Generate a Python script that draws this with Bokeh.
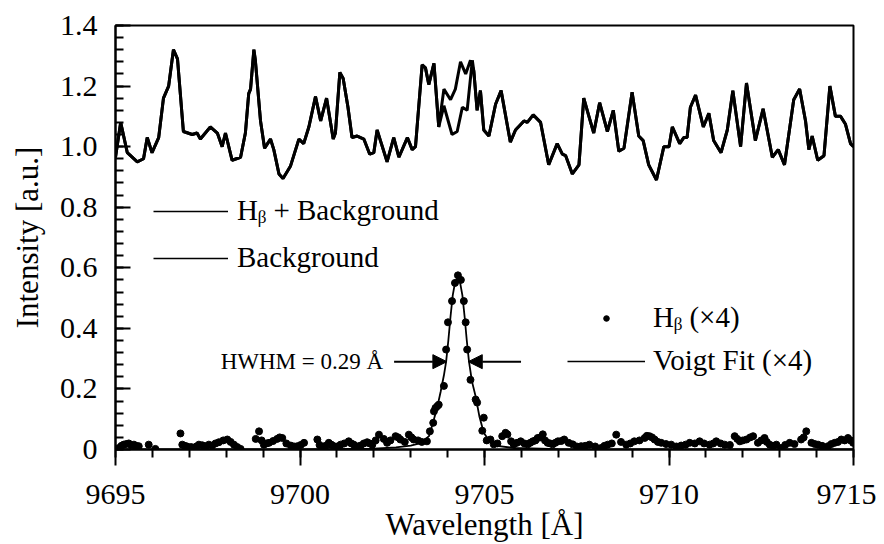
from bokeh.plotting import figure
from bokeh.models import Range1d, FixedTicker, Legend, LegendItem, Label, Arrow, NormalHead
from bokeh.embed import file_html
from bokeh.resources import INLINE

# ---- spectrum (Hb + background and background share everything except near the line)
wl_common_a = [9695.00, 9695.14, 9695.32, 9695.59, 9695.76, 9695.86, 9695.99, 9696.17, 9696.30, 9696.44,
               9696.57, 9696.68, 9696.84, 9697.08, 9697.21, 9697.30, 9697.57, 9697.76, 9697.89, 9697.98,
               9698.16, 9698.39, 9698.52, 9698.61, 9698.66, 9698.75, 9698.79, 9698.93, 9699.04, 9699.20,
               9699.29, 9699.43, 9699.54, 9699.74, 9699.97, 9700.10, 9700.24, 9700.42, 9700.56, 9700.72,
               9700.90, 9700.96, 9701.08, 9701.17, 9701.30, 9701.41, 9701.55, 9701.73, 9701.89, 9702.00,
               9702.09, 9702.18, 9702.36, 9702.54, 9702.68, 9702.91, 9703.04, 9703.13, 9703.31, 9703.40,
               9703.49, 9703.63, 9703.76]
int_common_a = [0.965, 1.08, 0.98, 0.95, 0.96, 1.03, 0.98, 1.03, 1.16, 1.20,
                1.32, 1.29, 1.05, 1.04, 1.045, 1.025, 1.065, 1.045, 1.00, 1.045,
                0.955, 0.965, 1.045, 1.175, 1.19, 1.32, 1.285, 1.085, 0.995, 1.025,
                0.99, 0.91, 0.895, 0.935, 1.025, 1.01, 1.065, 1.165, 1.085, 1.16,
                1.025, 1.045, 1.245, 1.225, 1.13, 1.03, 1.035, 1.025, 0.975, 0.98,
                1.055, 1.02, 0.95, 1.03, 0.965, 1.03, 0.99, 1.00, 1.27, 1.26,
                1.205, 1.275, 1.065]
wl_sig_branch = [9703.90, 9704.08, 9704.21, 9704.35, 9704.49, 9704.62]
int_sig_branch = [1.19, 1.155, 1.19, 1.28, 1.24, 1.285]
wl_bg_branch = [9703.90, 9704.12, 9704.26, 9704.40, 9704.53, 9704.67]
int_bg_branch = [1.135, 1.04, 1.05, 1.13, 1.12, 1.285]
wl_common_b = [9704.71, 9704.80, 9704.89, 9704.98, 9705.12, 9705.30, 9705.45, 9705.70, 9705.84, 9706.07,
               9706.16, 9706.32, 9706.52, 9706.74, 9706.97, 9707.11, 9707.20, 9707.38, 9707.56, 9707.69,
               9707.83, 9707.96, 9708.12, 9708.33, 9708.49, 9708.64, 9708.78, 9709.00, 9709.18, 9709.30,
               9709.45, 9709.66, 9709.86, 9710.00, 9710.09, 9710.29, 9710.40, 9710.49, 9710.58, 9710.72,
               9710.93, 9711.08, 9711.21, 9711.41, 9711.58, 9711.73, 9711.94, 9712.10, 9712.34, 9712.55,
               9712.80, 9712.96, 9713.13, 9713.38, 9713.54, 9713.70, 9713.79, 9713.88, 9714.03, 9714.20,
               9714.36, 9714.51, 9714.65, 9714.78, 9714.92, 9715.00]
int_common_b = [1.25, 1.12, 1.185, 1.055, 1.035, 1.14, 1.185, 1.015, 1.055, 1.085,
                1.08, 1.105, 1.08, 0.94, 1.01, 0.975, 0.97, 0.91, 0.94, 1.16,
                1.10, 1.045, 1.145, 1.05, 1.12, 0.985, 0.995, 1.18, 1.035, 1.02,
                0.94, 0.89, 1.00, 1.00, 1.065, 1.01, 1.03, 1.03, 1.13, 1.17,
                1.065, 1.11, 1.02, 0.98, 1.055, 1.185, 1.00, 1.21, 1.02, 1.125,
                0.965, 0.99, 0.94, 1.155, 1.19, 1.085, 0.99, 1.035, 0.955, 0.97,
                1.20, 1.10, 1.10, 1.075, 1.01, 1.00]

# ---- H-beta (x4) measured points
hb_wl = [9695.09, 9695.16, 9695.22, 9695.29, 9695.36, 9695.43, 9695.50, 9695.56, 9695.63, 9695.90,
         9696.08, 9696.76, 9696.81, 9696.88, 9696.94, 9697.05, 9697.12, 9697.19, 9697.26, 9697.35,
         9697.44, 9697.53, 9697.62, 9697.71, 9697.80, 9697.92, 9698.03, 9698.12, 9698.21, 9698.30,
         9698.39, 9698.80, 9698.89, 9698.96, 9699.02, 9699.09, 9699.16, 9699.27, 9699.38, 9699.45,
         9699.52, 9699.63, 9699.75, 9699.84, 9699.93, 9700.02, 9700.11, 9700.47, 9700.53, 9700.60,
         9700.69, 9700.78, 9700.85, 9700.92, 9701.01, 9701.10, 9701.20, 9701.32, 9701.39, 9701.46,
         9701.55, 9701.64, 9701.73, 9701.82, 9701.89, 9701.96, 9702.05, 9702.14, 9702.27, 9702.36,
         9702.45, 9702.59, 9702.66, 9702.72, 9702.84, 9702.95, 9703.02, 9703.08, 9703.20, 9703.30,
         9703.44, 9703.52, 9703.61, 9703.63, 9703.67, 9703.72, 9703.76, 9703.90, 9703.96, 9704.01,
         9704.12, 9704.20, 9704.28, 9704.36, 9704.44, 9704.49, 9704.53, 9704.62, 9704.76, 9704.80,
         9704.94, 9704.98, 9705.06, 9705.16, 9705.25, 9705.35, 9705.48, 9705.57, 9705.62, 9705.72,
         9705.79, 9705.88, 9705.98, 9706.08, 9706.17, 9706.24, 9706.31, 9706.38, 9706.44, 9706.51,
         9706.58, 9706.64, 9706.71, 9706.78, 9706.85, 9706.92, 9706.99, 9707.08, 9707.16, 9707.28,
         9707.39, 9707.50, 9707.62, 9707.73, 9707.84, 9708.00, 9708.16, 9708.25, 9708.34, 9708.45,
         9708.57, 9708.70, 9708.84, 9708.95, 9709.06, 9709.20, 9709.34, 9709.40, 9709.47, 9709.54,
         9709.61, 9709.70, 9709.79, 9709.92, 9710.06, 9710.20, 9710.33, 9710.45, 9710.56, 9710.70,
         9710.83, 9710.95, 9711.10, 9711.20, 9711.28, 9711.40, 9711.51, 9711.65, 9711.78, 9711.85,
         9711.92, 9712.00, 9712.10, 9712.20, 9712.28, 9712.41, 9712.50, 9712.59, 9712.65, 9712.73,
         9712.82, 9712.91, 9713.04, 9713.15, 9713.27, 9713.40, 9713.58, 9713.65, 9713.72, 9713.86,
         9713.95, 9714.04, 9714.15, 9714.31, 9714.40, 9714.49, 9714.58, 9714.67, 9714.76, 9714.85,
         9714.92, 9714.99]
hb_int = [0.005, 0.012, 0.016, 0.018, 0.020, 0.014, 0.016, 0.012, 0.011, 0.016,
          0.002, 0.053, 0.016, 0.012, 0.010, 0.008, 0.002, 0.010, 0.016, 0.014,
          0.011, 0.016, 0.013, 0.020, 0.024, 0.030, 0.033, 0.025, 0.016, 0.008,
          0.002, 0.035, 0.060, 0.030, 0.016, 0.020, 0.022, 0.028, 0.035, 0.040,
          0.038, 0.020, 0.013, 0.010, 0.011, 0.015, 0.022, 0.033, 0.015, 0.005,
          0.012, 0.022, 0.016, 0.011, 0.010, 0.016, 0.020, 0.027, 0.020, 0.016,
          0.010, 0.013, 0.020, 0.024, 0.020, 0.016, 0.030, 0.049, 0.035, 0.022,
          0.030, 0.044, 0.040, 0.033, 0.025, 0.049, 0.040, 0.033, 0.030, 0.025,
          0.027, 0.060, 0.088, 0.126, 0.137, 0.143, 0.148, 0.210, 0.330, 0.420,
          0.490, 0.550, 0.575, 0.560, 0.490, 0.420, 0.330, 0.230, 0.165, 0.155,
          0.062, 0.105, 0.030, 0.033, 0.017, 0.020, 0.044, 0.055, 0.050, 0.027,
          0.017, 0.022, 0.027, 0.020, 0.017, 0.022, 0.027, 0.030, 0.038, 0.040,
          0.050, 0.030, 0.022, 0.020, 0.017, 0.022, 0.027, 0.028, 0.033, 0.022,
          0.017, 0.010, 0.011, 0.012, 0.016, 0.010, 0.005, 0.012, 0.016, 0.020,
          0.049, 0.025, 0.016, 0.020, 0.027, 0.030, 0.038, 0.045, 0.044, 0.040,
          0.033, 0.025, 0.022, 0.018, 0.016, 0.010, 0.013, 0.016, 0.022, 0.020,
          0.027, 0.020, 0.016, 0.020, 0.027, 0.020, 0.016, 0.015, 0.044, 0.035,
          0.027, 0.030, 0.033, 0.040, 0.044, 0.022, 0.030, 0.038, 0.025, 0.016,
          0.012, 0.016, 0.005, 0.015, 0.022, 0.018, 0.033, 0.040, 0.060, 0.022,
          0.018, 0.016, 0.012, 0.011, 0.018, 0.022, 0.025, 0.033, 0.030, 0.038,
          0.030, 0.022]

# ---- Voigt fit (x4)
fit_wl = [9695.0, 9700.0, 9702.0, 9702.6, 9703.0, 9703.3, 9703.5, 9703.63, 9703.72, 9703.81,
          9703.90, 9703.96, 9704.02, 9704.08, 9704.14, 9704.20, 9704.27, 9704.34, 9704.40, 9704.46,
          9704.52, 9704.58, 9704.66, 9704.76, 9704.86, 9704.98, 9705.15, 9705.34, 9705.8, 9707.0, 9715.0]
fit_int = [0.0, 0.0, 0.003, 0.007, 0.013, 0.022, 0.045, 0.10, 0.14, 0.19,
           0.245, 0.29, 0.36, 0.44, 0.51, 0.55, 0.567, 0.55, 0.51, 0.44,
           0.36, 0.29, 0.225, 0.175, 0.11, 0.055, 0.025, 0.012, 0.005, 0.001, 0.0]

fit_center = 9704.27
hwhm = 0.29
half_max_level = 0.29

x_ticks = [9695, 9700, 9705, 9710, 9715]
y_ticks = [0, 0.2, 0.4, 0.6, 0.8, 1.0, 1.2, 1.4]
y_tick_labels = ["0", "0.2", "0.4", "0.6", "0.8", "1.0", "1.2", "1.4"]

FONT = "Liberation Serif"
NAN = float("nan")

wl_sig = wl_common_a + wl_sig_branch + wl_common_b
int_sig = int_common_a + int_sig_branch + int_common_b
wl_bg = wl_common_a + wl_bg_branch + wl_common_b
int_bg = int_common_a + int_bg_branch + int_common_b

p = figure(width=876, height=544, x_range=Range1d(9695, 9715), y_range=Range1d(0, 1.4),
           output_backend="svg", toolbar_location=None,
           min_border_left=115, min_border_right=23, min_border_top=25, min_border_bottom=94)
p.xgrid.visible = False
p.ygrid.visible = False
p.outline_line_color = "black"
p.outline_line_width = 2
p.background_fill_color = "white"
p.border_fill_color = "white"

r_sig = p.line(wl_sig, int_sig, line_color="black", line_width=3)
r_bg = p.line(wl_bg, int_bg, line_color="black", line_width=3)
r_fit = p.line(fit_wl, fit_int, line_color="black", line_width=1.8)
r_pts = p.scatter(hb_wl, hb_int, size=7, fill_color="black", line_color="black")

# legend key renderers (thin lines / dot like the original key); they draw nothing in the frame
leg_sig = p.line([NAN], [NAN], line_color="black", line_width=1.5)
leg_bg = p.line([NAN], [NAN], line_color="black", line_width=1.5)
leg_fit = p.line([NAN], [NAN], line_color="black", line_width=1.5)
leg_pts = p.scatter([NAN], [NAN], size=4, fill_color="black", line_color="black")

# axes
xa = p.xaxis[0]
xa.ticker = FixedTicker(ticks=x_ticks, minor_ticks=list(range(9695, 9716)))
xa.axis_label = "Wavelength [Å]"
xa.major_tick_in = 0
xa.major_tick_out = 16
xa.minor_tick_in = 0
xa.minor_tick_out = 8
xa.major_label_standoff = 19

ya = p.yaxis[0]
ya.ticker = FixedTicker(ticks=y_ticks, minor_ticks=[round(i * 0.04, 2) for i in range(36)])
ya.major_label_overrides = dict(zip(y_ticks, y_tick_labels))
ya.axis_label = "Intensity [a.u.]"
ya.major_tick_in = 15
ya.major_tick_out = 0
ya.minor_tick_in = 8
ya.minor_tick_out = 0
ya.major_label_standoff = 18
ya.axis_label_standoff = 12

for ax in (xa, ya):
    ax.axis_line_width = 2
    ax.axis_line_color = "black"
    ax.major_tick_line_width = 2
    ax.minor_tick_line_width = 2
    ax.major_tick_line_color = "black"
    ax.minor_tick_line_color = "black"
    ax.major_label_text_font = FONT
    ax.major_label_text_font_size = "30px"
    ax.major_label_text_color = "black"
    ax.axis_label_text_font = FONT
    ax.axis_label_text_font_size = "31px"
    ax.axis_label_text_font_style = "normal"
    ax.axis_label_text_color = "black"
xa.axis_label_standoff = 0


def style_legend(lg):
    lg.label_text_font = FONT
    lg.label_text_font_size = "29px"
    lg.label_text_color = "black"
    lg.border_line_alpha = 0
    lg.background_fill_alpha = 0
    lg.padding = 0
    lg.margin = 0
    lg.label_height = 30
    lg.glyph_height = 30


leg_left = Legend(items=[LegendItem(label="H\u1d66 + Background", renderers=[leg_sig]),
                         LegendItem(label="Background", renderers=[leg_bg])],
                  location=(38, 175))
style_legend(leg_left)
leg_left.glyph_width = 75
leg_left.label_standoff = 9
leg_left.spacing = 14

leg_right = Legend(items=[LegendItem(label="H\u1d66 (\u00d74)", renderers=[leg_pts]),
                          LegendItem(label="Voigt Fit (\u00d74)", renderers=[leg_fit])],
                   location=(452, 72))
style_legend(leg_right)
leg_right.glyph_height = 14
leg_right.glyph_width = 78
leg_right.label_standoff = 8
leg_right.spacing = 10

p.add_layout(leg_left)
p.add_layout(leg_right)

# HWHM annotation
p.add_layout(Label(x=9697.85, y=half_max_level, text="HWHM = 0.29 Å", text_font=FONT,
                   text_font_size="23px", text_baseline="middle", text_color="black"))
p.add_layout(Arrow(end=NormalHead(size=14, fill_color="black", line_color="black"),
                   x_start=fit_center - hwhm - 1.43, y_start=half_max_level,
                   x_end=fit_center - hwhm, y_end=half_max_level,
                   line_color="black", line_width=2))
p.add_layout(Arrow(end=NormalHead(size=14, fill_color="black", line_color="black"),
                   x_start=fit_center + hwhm + 1.43, y_start=half_max_level,
                   x_end=fit_center + hwhm, y_end=half_max_level,
                   line_color="black", line_width=2))

open("out.html", "w").write(file_html(p, INLINE))
